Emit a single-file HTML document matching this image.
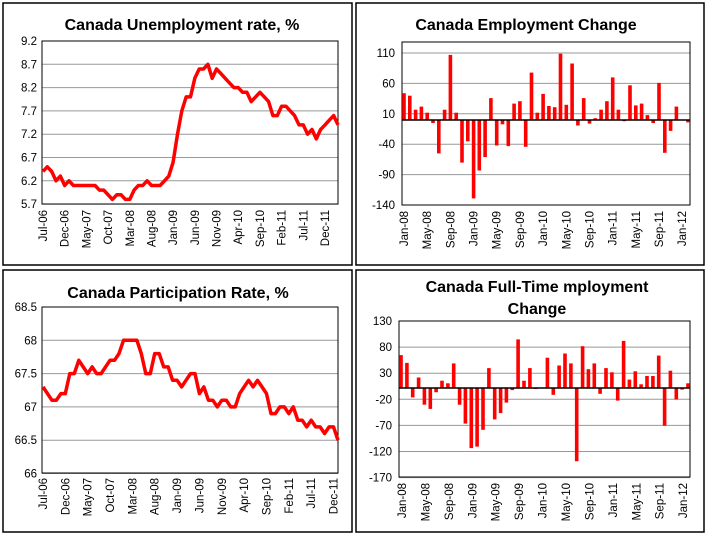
<!DOCTYPE html>
<html><head><meta charset="utf-8"><style>
html,body{margin:0;padding:0;background:#fff;}
svg{display:block;font-family:"Liberation Sans",Arial,sans-serif;}
</style></head><body>
<svg id="s" width="707" height="536" xmlns="http://www.w3.org/2000/svg"></svg>
<script>
const S=document.getElementById('s');let h='';
function panel(x1,y1,x2,y2){h+=`<rect x="${x1}" y="${y1}" width="${x2-x1}" height="${y2-y1}" fill="#fff" stroke="#000" stroke-width="1.5"/>`;}
function title(t,x,y){h+=`<text x="${x}" y="${y}" font-size="16" font-weight="bold" text-anchor="middle">${t}</text>`;}
function axes(px1,py1,px2,py2,ticks,lblx){
 for(const [v,y] of ticks){h+=`<line x1="${px1}" y1="${y}" x2="${px2}" y2="${y}" stroke="#999" stroke-width="1"/>`;
  h+=`<text x="${lblx}" y="${y+4}" font-size="11.5" text-anchor="end">${v}</text>`;}
 h+=`<rect x="${px1}" y="${py1}" width="${px2-px1}" height="${py2-py1}" fill="none" stroke="#000" stroke-width="1"/>`;}
function xl(labels,x0,dx,y){labels.forEach((l,i)=>{const x=x0+i*dx+4;h+=`<text transform="translate(${x},${y}) rotate(-90)" font-size="11.5" text-anchor="end">${l}</text>`;});}
// Panel 1
panel(3,3,352,265);title("Canada Unemployment rate, %",182,30);
const t1=[];for(let i=0;i<8;i++){t1.push([(9.2-0.5*i).toFixed(1),41+i*23.3]);}
axes(42,41,338,204,t1,37);
const u=[6.4,6.5,6.4,6.2,6.3,6.1,6.2,6.1,6.1,6.1,6.1,6.1,6.1,6.0,6.0,5.9,5.8,5.9,5.9,5.8,5.8,6.0,6.1,6.1,6.2,6.1,6.1,6.1,6.2,6.3,6.6,7.2,7.7,8.0,8.0,8.4,8.6,8.6,8.7,8.4,8.6,8.5,8.4,8.3,8.2,8.2,8.1,8.1,7.9,8.0,8.1,8.0,7.9,7.6,7.6,7.8,7.8,7.7,7.6,7.4,7.4,7.2,7.3,7.1,7.3,7.4,7.5,7.6,7.4];
let dx1=(338-43)/(u.length-1);
h+=`<polyline fill="none" stroke="#f00" stroke-width="3.5" stroke-linejoin="round" points="${u.map((v,i)=>(43+i*dx1).toFixed(1)+','+(41+(9.2-v)/0.5*23.3).toFixed(1)).join(' ')}"/>`;
const L1=["Jul-06","Dec-06","May-07","Oct-07","Mar-08","Aug-08","Jan-09","Jun-09","Nov-09","Apr-10","Sep-10","Feb-11","Jul-11","Dec-11"];
xl(L1,43,dx1*5,210);
// Panel 3
panel(3,270,352,532);title("Canada Participation Rate, %",178,298);
const t3=[];for(let i=0;i<6;i++){t3.push([(68.5-0.5*i).toString(),307+i*33.3]);}
axes(42,307,338,473,t3,37);
const p=[67.3,67.2,67.1,67.1,67.2,67.2,67.5,67.5,67.7,67.6,67.5,67.6,67.5,67.5,67.6,67.7,67.7,67.8,68.0,68.0,68.0,68.0,67.8,67.5,67.5,67.8,67.8,67.6,67.6,67.4,67.4,67.3,67.4,67.5,67.5,67.2,67.3,67.1,67.1,67.0,67.1,67.1,67.0,67.0,67.2,67.3,67.4,67.3,67.4,67.3,67.2,66.9,66.9,67.0,67.0,66.9,67.0,66.8,66.8,66.7,66.8,66.7,66.7,66.6,66.7,66.7,66.5];
let dx3=(338-43)/(p.length-1);
h+=`<polyline fill="none" stroke="#f00" stroke-width="3.5" stroke-linejoin="round" points="${p.map((v,i)=>(43+i*dx3).toFixed(1)+','+(307+(68.5-v)/0.5*33.3).toFixed(1)).join(' ')}"/>`;
xl(L1,43,dx3*5,478);
// Panel 2
panel(356,3,704,265);title("Canada Employment Change",526,30);
const t2=[];for(let i=0;i<6;i++){t2.push([110-50*i,53+i*30.4]);}
axes(402,42,690,205,t2,395);
const e=[44,40,17,22,12,-5,-55,17,107,12,-70,-35,-129,-83,-61,36,-42,-7,-43,27,31,-44,78,12,43,23,21,109,25,93,-9,36,-6,3,17,31,70,17,-2,57,24,27,8,-5,61,-54,-18,22,0,-4];
let dx2=(688-404)/(e.length-1);
e.forEach((v,i)=>{const x=404+i*dx2,hh=v*0.608;h+=`<rect x="${(x-1.8).toFixed(1)}" y="${(hh>0?120-hh:120).toFixed(1)}" width="3.6" height="${Math.abs(hh).toFixed(1)}" fill="#f00"/>`;});
h+=`<line x1="402" y1="120" x2="690" y2="120" stroke="#000" stroke-width="1.5"/>`;
const L2=["Jan-08","May-08","Sep-08","Jan-09","May-09","Sep-09","Jan-10","May-10","Sep-10","Jan-11","May-11","Sep-11","Jan-12"];
xl(L2,404,dx2*4,211);
// Panel 4
panel(356,270,704,532);title("Canada Full-Time mployment",537,292);title("Change",537,314);
const t4=[];for(let i=0;i<7;i++){t4.push([130-50*i,321+i*26.1]);}
axes(399,321,690,477,t4,392);
const f=[63,48,-18,20,-32,-40,-8,14,9,47,-32,-68,-115,-112,-80,38,-60,-48,-28,-4,93,14,38,-2,0,58,-13,43,66,47,-140,80,36,47,-11,38,30,-24,90,16,32,7,23,23,62,-72,33,-22,-3,9];
let dx4=(688-401)/(f.length-1);
f.forEach((v,i)=>{const x=401+i*dx4,hh=v*0.523;h+=`<rect x="${(x-1.8).toFixed(1)}" y="${(hh>0?388-hh:388).toFixed(1)}" width="3.6" height="${Math.abs(hh).toFixed(1)}" fill="#f00"/>`;});
h+=`<line x1="399" y1="388" x2="690" y2="388" stroke="#000" stroke-width="1.5"/>`;
xl(L2,402,dx4*4,483);
S.innerHTML=h;
</script>
</body></html>
